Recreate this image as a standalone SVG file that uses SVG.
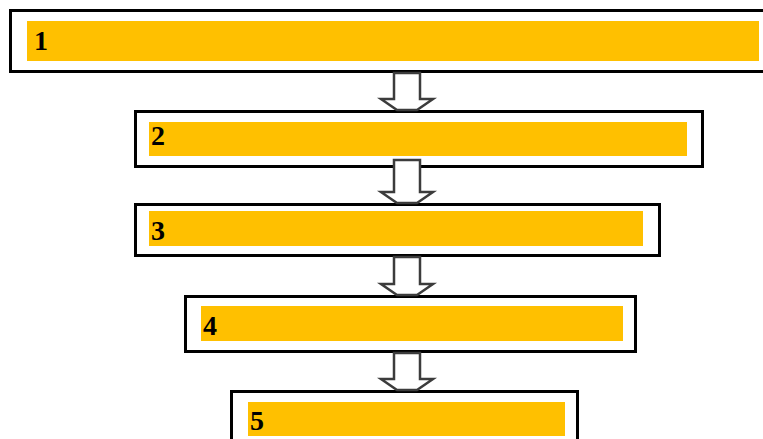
<svg xmlns="http://www.w3.org/2000/svg" width="763" height="439" viewBox="0 0 763 439">
<style>
.box{fill:#fff;stroke:#000;stroke-width:3}
.bar{fill:#FFC000}
.lbl{font-family:"Liberation Serif","DejaVu Serif",serif;font-weight:bold;font-size:28px;fill:#000}
.arr{fill:#fff;stroke:#3c3c3c;stroke-width:2.5;stroke-linejoin:miter}
</style>
<rect width="763" height="439" fill="#fff"/>
<g id="node1">
<rect class="box" x="10.5" y="10.5" width="762" height="61"/>
<rect class="bar" x="27" y="21" width="732" height="40"/>
<text class="lbl" x="34" y="50">1</text>
</g>
<g id="node2">
<rect class="box" x="135.5" y="111.5" width="567" height="55"/>
<rect class="bar" x="149" y="122" width="538" height="34"/>
<text class="lbl" x="151" y="145">2</text>
</g>
<g id="node3">
<rect class="box" x="135.5" y="204.5" width="524" height="51"/>
<rect class="bar" x="149" y="211" width="494" height="35"/>
<text class="lbl" x="151" y="240">3</text>
</g>
<g id="node4">
<rect class="box" x="185.5" y="296.5" width="450" height="55"/>
<rect class="bar" x="201" y="306" width="422" height="35"/>
<text class="lbl" x="203" y="335">4</text>
</g>
<g id="node5">
<rect class="box" x="231.5" y="391.5" width="346" height="60"/>
<rect class="bar" x="248" y="402" width="317" height="34"/>
<text class="lbl" x="250" y="430">5</text>
</g>
<g id="connectors">
<polygon class="arr" points="394,73 420,73 420,99 433,99 417,110 397,110 381,99 394,99"/>
<polygon class="arr" points="394,160 420,160 420,192 433,192 417,203 397,203 381,192 394,192"/>
<polygon class="arr" points="394,257 420,257 420,284 433,284 417,295 397,295 381,284 394,284"/>
<polygon class="arr" points="394,353 420,353 420,379 433,379 417,390 397,390 381,379 394,379"/>
</g>
</svg>
